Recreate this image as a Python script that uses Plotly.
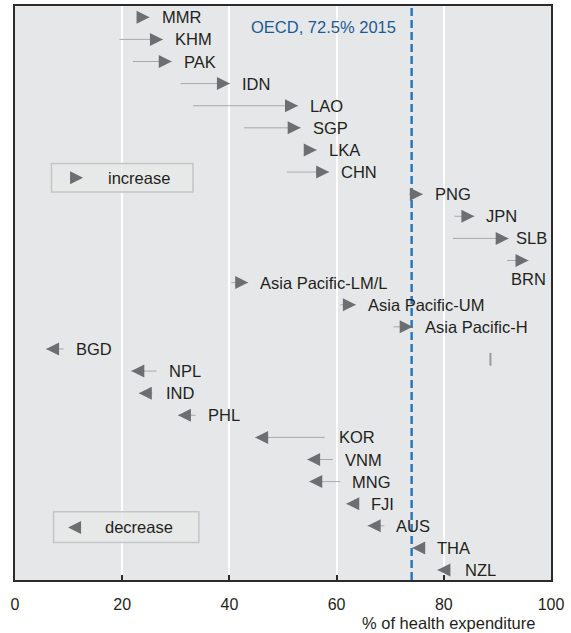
import plotly.graph_objects as go

# ---------------- data ----------------
countries = ["MMR", "KHM", "PAK", "IDN", "LAO", "SGP", "LKA", "CHN", "PNG", "JPN",
             "SLB", "BRN", "Asia Pacific-LM/L", "Asia Pacific-UM", "Asia Pacific-H",
             "BGD", "NPL", "IND", "PHL", "KOR", "VNM", "MNG", "FJI", "AUS", "THA", "NZL"]
start_pct = [23.3, 19.5, 22.0, 30.9, 33.2, 42.7, 54.0, 50.7, 73.5, 82.0,
             81.7, 91.8, 40.4, 60.7, 70.6,
             9.1, 26.4, 25.6, 33.7, 57.8, 59.3, 60.7, 64.1, 68.9, 76.4, 81.1]
end_pct = [25.1, 27.6, 29.25, 40.1, 52.8, 53.3, 56.3, 58.6, 76.1, 85.7,
           92.1, 95.8, 43.5, 63.6, 74.2,
           5.8, 21.7, 23.1, 30.4, 44.8, 54.5, 54.9, 61.8, 65.8, 74.1, 78.8]
oecd_pct = 74.0
oecd_label = "OECD, 72.5% 2015"
x_ticks = [0, 20, 40, 60, 80, 100]
x_title = "% of health expenditure"
# small unlabelled vertical mark seen in the picture
mark_x = [88.7, 88.7]
mark_y = [15.18, 15.76]

# ---------------- style ----------------
FONT = "Liberation Sans, Arial, sans-serif"
LSIZE = 16.5
TXT = "#231f20"
BG = "#e6e7e8"
HEAD = "#6d6e71"
LINE = "#a7a9ac"
BLUE_TXT = "#1c5a94"
BLUE_LINE = "#2a78c0"


def head(x, y, direction):
    # arrow head only: the annotation's own stem is hidden under the head
    return dict(x=x, y=y, ax=-15 * direction, ay=0, xref="x", yref="y",
                text="", showarrow=True, arrowhead=2, arrowwidth=0.1,
                arrowsize=26, arrowcolor=HEAD, standoff=0)


fig = go.Figure()

# connecting lines
lx, ly = [], []
for i, (s, e) in enumerate(zip(start_pct, end_pct)):
    lx += [s, e, None]
    ly += [i, i, None]
fig.add_trace(go.Scatter(x=lx, y=ly, mode="lines", line=dict(color=LINE, width=1),
                         hoverinfo="skip", showlegend=False))

fig.add_trace(go.Scatter(x=mark_x, y=mark_y, mode="lines", line=dict(color="#9a9b9d", width=2),
                         hoverinfo="skip", showlegend=False))

annotations = []
label_shift = {"SLB": 5, "IND": 12, "KOR": 12, "NZL": 13}
for i, (c, s, e) in enumerate(zip(countries, start_pct, end_pct)):
    annotations.append(head(e, i, 1 if e >= s else -1))
    if c == "BRN":
        annotations.append(dict(x=e, y=i, xref="x", yref="y", text=c, showarrow=False,
                                xanchor="center", yanchor="middle", yshift=-18,
                                font=dict(family=FONT, size=LSIZE, color=TXT)))
    else:
        annotations.append(dict(x=max(s, e), y=i, xref="x", yref="y", text=c,
                                showarrow=False, xanchor="left", yanchor="middle",
                                xshift=label_shift.get(c, 10),
                                font=dict(family=FONT, size=LSIZE, color=TXT)))

# legend boxes and OECD reference line
shapes = [
    dict(type="rect", xref="x", yref="y", x0=6.8, x1=33.2, y0=6.61, y1=7.90,
         line=dict(color="#c4c5c7", width=1.5), fillcolor="rgba(230,231,232,0.85)",
         layer="between"),
    dict(type="rect", xref="x", yref="y", x0=7.2, x1=34.3, y0=22.36, y1=23.75,
         line=dict(color="#c4c5c7", width=1.5), fillcolor="rgba(230,231,232,0.85)",
         layer="between"),
    dict(type="line", xref="x", yref="paper", x0=oecd_pct, x1=oecd_pct, y0=0, y1=1,
         line=dict(color=BLUE_LINE, width=2.5, dash="8px,4px"), layer="above"),
]
annotations += [
    head(12.7, 7.26, 1),
    dict(x=17.0, y=7.26, xref="x", yref="y", text="increase", showarrow=False,
         xanchor="left", yanchor="middle", font=dict(family=FONT, size=LSIZE, color=TXT)),
    head(9.9, 23.07, -1),
    dict(x=16.4, y=23.07, xref="x", yref="y", text="decrease", showarrow=False,
         xanchor="left", yanchor="middle", font=dict(family=FONT, size=LSIZE, color=TXT)),
    dict(x=oecd_pct, y=0.45, xref="x", yref="y", text=oecd_label, showarrow=False,
         xanchor="right", yanchor="middle", xshift=-14,
         font=dict(family=FONT, size=LSIZE, color=BLUE_TXT)),
    dict(x=0.974, y=0, xref="paper", yref="paper", text=x_title, showarrow=False,
         xanchor="right", yanchor="middle", yshift=-43,
         font=dict(family=FONT, size=LSIZE, color=TXT)),
]

fig.update_layout(
    width=571, height=633,
    margin=dict(l=15, r=20, t=6, b=53, autoexpand=False),
    paper_bgcolor="white",
    plot_bgcolor=BG,
    showlegend=False,
    shapes=shapes,
    annotations=annotations,
    font=dict(family=FONT, color=TXT),
    xaxis=dict(range=[0, 100], tickvals=x_ticks, ticktext=[str(t) for t in x_ticks],
               showgrid=True, gridcolor="white", gridwidth=2, zeroline=False,
               showline=True, linecolor="#2b2b2b", linewidth=2, mirror=True,
               ticks="inside", ticklen=5, tickwidth=2, tickcolor="#2b2b2b",
               tickfont=dict(family=FONT, size=16, color=TXT),
               ticklabelstandoff=9, automargin=False),
    yaxis=dict(range=[25.45, -0.51], showgrid=False, zeroline=False,
               showticklabels=False, ticks="", showline=True, linecolor="#2b2b2b",
               linewidth=2, mirror=True, automargin=False),
)

fig.write_html("out.html", config={"displayModeBar": False},
               post_script="document.body.style.margin='0';document.body.style.overflow='hidden';")
